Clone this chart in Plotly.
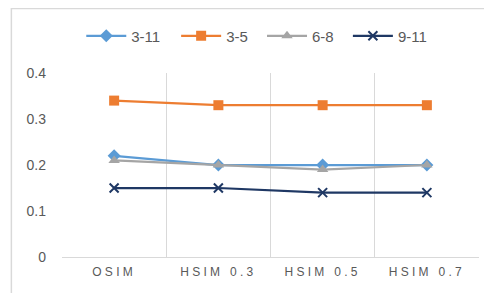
import plotly.graph_objects as go

categories = ["OSIM", "HSIM 0.3", "HSIM 0.5", "HSIM 0.7"]
s_3_11 = [0.22, 0.20, 0.20, 0.20]
s_3_5 = [0.34, 0.33, 0.33, 0.33]
s_6_8 = [0.21, 0.20, 0.19, 0.20]
s_9_11 = [0.15, 0.15, 0.14, 0.14]
y_ticks = [0, 0.1, 0.2, 0.3, 0.4]
y_ticktext = ["0", "0.1", "0.2", "0.3", "0.4"]

series = [
    ("3-11", s_3_11, "#5B9BD5", "diamond", 10),
    ("3-5", s_3_5, "#ED7D31", "square", 10),
    ("6-8", s_6_8, "#A5A5A5", "triangle-up", 10),
    ("9-11", s_9_11, "#1F3864", "x-thin", 9),
]

# page has an 8px body margin, so the figure is 8px smaller and offset
OFF = 8
W, H = 492 - OFF, 293 - OFF
L, T = 61.7 - OFF, 73.3 - OFF
R, B = 12.7, 36.3
pw, ph = W - L - R, H - T - B

def px(xpage):
    return (xpage - OFF - L) / pw

def py(ypage):
    return (H - B - (ypage - OFF)) / ph

legend_marker_x = [105, 200, 286, 372]  # page-pixel centres of legend symbols
LEG_SHIFT = 24

fig = go.Figure()
legends = {}
for i, (name, vals, color, sym, size) in enumerate(series):
    marker = dict(symbol=sym, size=size, color=color)
    if sym == "x-thin":
        marker["line"] = dict(color=color, width=2)
    key = "legend" if i == 0 else f"legend{i+1}"
    fig.add_trace(go.Scatter(
        x=categories, y=vals, name=name, mode="lines+markers",
        line=dict(color=color, width=2.25), marker=marker, legend=key,
    ))
    legends[key] = dict(orientation="h", xanchor="left", yanchor="middle",
                        x=px(legend_marker_x[i] - LEG_SHIFT), y=py(36.5),
                        font=dict(size=15, color="#595959"), itemwidth=40,
                        bgcolor="rgba(0,0,0,0)")

fig.update_layout(
    width=W, height=H,
    margin=dict(l=L, r=R, t=T, b=B, pad=0),
    paper_bgcolor="white", plot_bgcolor="white",
    font=dict(family="Liberation Sans, Arial, sans-serif", color="#595959", size=12),
    showlegend=True,
    xaxis=dict(type="category", tickson="boundaries", showgrid=True,
               gridcolor="#D9D9D9", gridwidth=1, showline=True,
               linecolor="#D9D9D9", linewidth=1, ticks="", mirror=False,
               tickfont=dict(size=12, color="#595959"), zeroline=False,
               range=[-0.5, 3.5], ticklabelstandoff=4),
    yaxis=dict(range=[0, 0.4], tickvals=y_ticks, ticktext=y_ticktext,
               showgrid=False, zeroline=False, showline=False,
               tickfont=dict(size=14, color="#595959"), ticks="",
               ticklabelstandoff=15),
    shapes=[dict(type="rect", xref="paper", yref="paper",
                 x0=px(11), x1=(W + 5 - L) / pw,
                 y0=(H - B - (H + 5)) / ph, y1=py(9),
                 line=dict(color="#D9D9D9", width=1.5), layer="below")],
    **legends,
)

post = """
(function(){
  var gd = document.getElementById('{plot_id}');
  function spacing(){
    gd.querySelectorAll('.xtick text').forEach(function(t){
      t.style.letterSpacing = '3.3px';
    });
  }
  spacing();
  gd.on && gd.on('plotly_afterplot', spacing);
})();
"""

fig.write_html("out.html", post_script=post)
